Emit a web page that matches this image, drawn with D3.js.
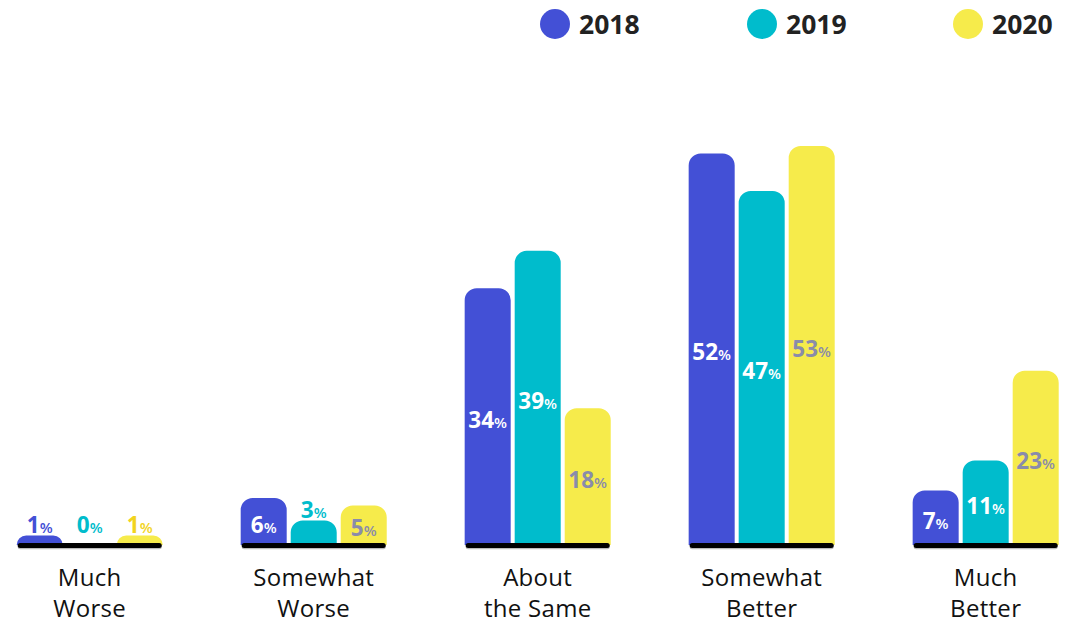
<!DOCTYPE html>
<html><head><meta charset="utf-8">
<script src="https://cdn.jsdelivr.net/npm/d3@7"></script>
<style>body{margin:0;background:#fff} svg{display:block}</style>
</head><body>
<svg id="chart" width="1076" height="623"></svg>
<script>
// Change in outlook, share of respondents per year
const categories = ["Much Worse", "Somewhat Worse", "About the Same", "Somewhat Better", "Much Better"];
const categoryLines = [["Much", "Worse"], ["Somewhat", "Worse"], ["About", "the Same"], ["Somewhat", "Better"], ["Much", "Better"]];
const years = ["2018", "2019", "2020"];
const values2018 = [1, 6, 34, 52, 7];
const values2019 = [0, 3, 39, 47, 11];
const values2020 = [1, 5, 18, 53, 23];
const yearColors = ["#4350d6", "#00bccc", "#f6eb4b"];
const insideLabelColors = ["#ffffff", "#ffffff", "#8a8caa"];
const outsideLabelColors = ["#4350d6", "#00bccc", "#f2d41e"];

const seriesValues = [values2018, values2019, values2020];
const rows = categories.map((c, ci) => ({
  category: c,
  lines: categoryLines[ci],
  bars: years.map((yr, yi) => ({ year: yr, yi, value: seriesValues[yi][ci] }))
}));

const FONT = "'Open Sans', 'DejaVu Sans', sans-serif";
const svg = d3.select("#chart");

const baseY = 543;
const x0 = d3.scaleBand().domain(categories).range([16.7, 1058.7]).paddingInner(0.348).paddingOuter(0);
const x1 = d3.scaleBand().domain(years).range([0, x0.bandwidth()]).paddingInner(0.08);
const y = d3.scaleLinear().domain([0, 53]).range([baseY, 146]);

function topRounded(x, yTop, w, h, r) {
  r = Math.min(r, h, w / 2);
  return `M${x},${yTop + h}V${yTop + r}A${r},${r} 0 0 1 ${x + r},${yTop}H${x + w - r}A${r},${r} 0 0 1 ${x + w},${yTop + r}V${yTop + h}Z`;
}

const groups = svg.append("g").selectAll("g.group")
  .data(rows).join("g")
  .attr("class", "group")
  .attr("transform", d => `translate(${x0(d.category)},0)`);

// bars
groups.selectAll("path.bar")
  .data(d => d.bars.filter(b => b.value > 0))
  .join("path")
  .attr("class", "bar")
  .attr("fill", b => yearColors[b.yi])
  .attr("d", b => {
    const top = y(b.value);
    return topRounded(x1(b.year), top, x1.bandwidth(), baseY + 2 - top, 12);
  });

// baseline under each group
groups.append("rect")
  .attr("x", 1).attr("y", baseY + 1.2)
  .attr("width", x0.bandwidth() - 2).attr("height", 5)
  .attr("rx", 2.5).attr("fill", "#777").attr("opacity", 0.5);
groups.append("rect")
  .attr("x", 1).attr("y", baseY)
  .attr("width", x0.bandwidth() - 2).attr("height", 5)
  .attr("rx", 2.5).attr("fill", "#000");

// value labels
groups.selectAll("text.value")
  .data(d => d.bars)
  .join("text")
  .attr("class", "value")
  .attr("text-anchor", "middle")
  .attr("font-family", FONT)
  .attr("font-weight", 700)
  .each(function (b) {
    const top = y(b.value);
    const h = baseY - top;
    const inside = h >= 30;
    const t = d3.select(this)
      .attr("x", x1(b.year) + x1.bandwidth() / 2)
      .attr("y", inside ? (top + baseY) / 2 + 12 : Math.min(top, y(1)) - 3)
      .attr("fill", inside ? insideLabelColors[b.yi] : outsideLabelColors[b.yi]);
    t.append("tspan").attr("font-size", 22.5).text(b.value);
    t.append("tspan").attr("font-size", 15).attr("font-weight", 600).text("%");
  });

// category labels
groups.append("text")
  .attr("text-anchor", "middle")
  .attr("font-family", FONT)
  .attr("font-size", 24)
  .attr("letter-spacing", 0.3)
  .attr("fill", "#111")
  .selectAll("tspan")
  .data(d => d.lines)
  .join("tspan")
  .attr("x", x0.bandwidth() / 2)
  .attr("y", (l, i) => 586 + i * 31)
  .text(l => l);

// legend
const legendX = [555, 762, 968];
const legend = svg.append("g").selectAll("g")
  .data(years).join("g")
  .attr("transform", (d, i) => `translate(${legendX[i]},24)`);
legend.append("circle").attr("r", 15).attr("fill", (d, i) => yearColors[i]);
legend.append("text")
  .attr("x", 24).attr("y", 9.5)
  .attr("font-family", FONT).attr("font-weight", 700).attr("font-size", 26.5)
  .attr("fill", "#222")
  .text(d => d);
</script>
</body></html>
